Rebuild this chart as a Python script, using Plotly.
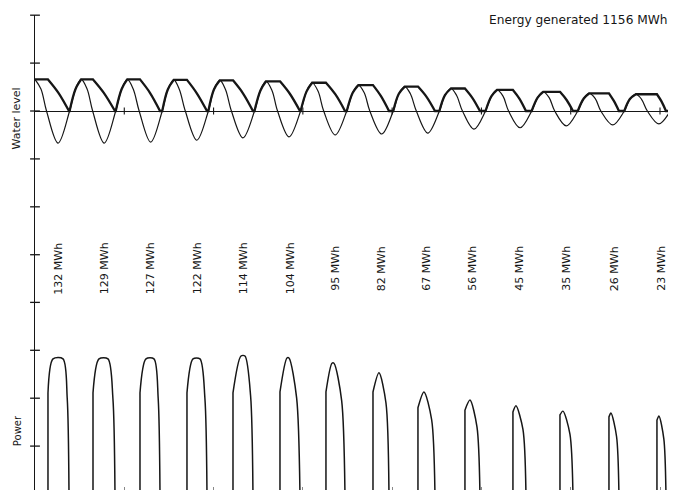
import plotly.graph_objects as go

# ---------------- data (hours / arbitrary level units) ----------------
hw_time = [0.0, 12.4, 24.8, 37.3, 49.7, 62.1, 74.5, 86.9, 99.4, 111.8, 124.2, 136.6, 149.0, 161.5]
hw_level = [0.66, 0.66, 0.66, 0.65, 0.64, 0.62, 0.59, 0.54, 0.51, 0.47, 0.44, 0.40, 0.37, 0.35]
fall_mid_time = [1.6, 14.0, 26.4, 38.8, 51.2, 63.7, 76.1, 88.5, 100.9, 113.3, 125.8, 138.2, 150.6, 163.0]
fall_mid_level = [0.46, 0.46, 0.46, 0.45, 0.45, 0.43, 0.41, 0.38, 0.36, 0.33, 0.31, 0.28, 0.26, 0.25]
fall_cross_time = [3.1, 15.5, 28.0, 40.4, 52.8, 65.2, 77.6, 90.0, 102.5, 114.9, 127.3, 139.7, 152.1, 164.6]
lw_time = [6.2, 18.6, 31.1, 43.5, 55.9, 68.3, 80.7, 93.2, 105.6, 118.0, 130.4, 142.8, 155.3, 167.7]
lw_level = [-0.67, -0.67, -0.65, -0.61, -0.56, -0.54, -0.50, -0.48, -0.46, -0.38, -0.35, -0.31, -0.29, -0.27]
rise_cross_time = [9.3, 21.7, 34.2, 46.6, 59.0, 71.4, 83.8, 96.3, 108.7, 121.1, 133.5, 145.9, 158.4, 170.8]
rise_mid_time = [10.9, 23.3, 35.7, 48.1, 60.6, 73.0, 85.4, 97.8, 110.2, 122.7, 135.1, 147.5, 159.9, 172.4]
rise_mid_level = [0.46, 0.46, 0.45, 0.45, 0.43, 0.41, 0.38, 0.36, 0.33, 0.31, 0.28, 0.26, 0.25, 0.24]

basin_low = 0.0
basin_fall_mid_time = [6.3, 18.5, 30.9, 43.5, 55.9, 68.5, 80.8, 93.0, 105.2, 117.6, 130.2, 142.9, 155.6, 168.4]
basin_fall_mid_level = [0.38, 0.38, 0.38, 0.37, 0.37, 0.36, 0.34, 0.31, 0.30, 0.27, 0.26, 0.23, 0.21, 0.20]

pulse_start = [3.49, 15.59, 28.22, 40.85, 53.22, 65.85, 78.21, 90.85, 102.94, 115.57, 128.47, 141.11, 154.28, 167.18]
pulse_end = [9.14, 21.50, 33.60, 46.23, 58.59, 71.22, 83.32, 95.15, 107.51, 119.60, 131.97, 144.60, 156.96, 169.60]
peak_start = [4.84, 17.20, 29.83, 42.47, 55.37, 67.73, 79.83, 92.46, 104.55, 116.92, 129.28, 141.91, 154.81, 167.71]
peak_end = [7.53, 19.62, 31.98, 44.35, 56.44, 68.27, 80.36, 92.46, 104.55, 116.92, 129.28, 141.91, 154.81, 167.71]
peak_power = [2.82, 2.82, 2.82, 2.82, 2.88, 2.84, 2.73, 2.53, 2.13, 1.96, 1.84, 1.73, 1.69, 1.63]
shoulder_power = [2.11, 2.11, 2.11, 2.11, 2.11, 2.13, 2.13, 2.13, 1.80, 1.75, 1.71, 1.65, 1.61, 1.54]
knee_time = [8.66, 20.94, 33.11, 45.67, 57.95, 70.33, 82.43, 94.34, 106.62, 118.80, 131.16, 143.79, 156.32, 169.03]
knee_power = [2.0, 2.0, 2.0, 2.0, 2.05, 2.0, 1.95, 1.9, 1.55, 1.4, 1.35, 1.25, 1.2, 1.15]

energy_mwh = [132, 129, 127, 122, 114, 104, 95, 82, 67, 56, 45, 35, 26, 23]
total_energy = 1156

water_ticks = [2, 1, 0, -1, -2, -3]
power_ticks = [1, 2, 3, 4]
day_hours = [24, 48, 72, 96, 120, 144, 168]

INK = "#161616"

# ---------------- build paths ----------------
sea_x, sea_y = [], []
for k in range(len(hw_time)):
    sea_x += [hw_time[k], fall_mid_time[k], fall_cross_time[k], lw_time[k], rise_cross_time[k], rise_mid_time[k]]
    sea_y += [hw_level[k], fall_mid_level[k], 0, lw_level[k], 0, rise_mid_level[k]]

bx, by = [hw_time[0]], [hw_level[0]]
n = len(hw_time)
for k in range(n):
    bx += [pulse_start[k], pulse_start[k], basin_fall_mid_time[k], pulse_end[k], pulse_end[k],
           rise_cross_time[k], rise_cross_time[k], rise_mid_time[k]]
    by += [hw_level[k], hw_level[k], basin_fall_mid_level[k], basin_low, basin_low,
           basin_low, basin_low, rise_mid_level[k]]
    if k + 1 < n:
        bx += [hw_time[k + 1], hw_time[k + 1]]
        by += [hw_level[k + 1], hw_level[k + 1]]

px_, py_ = [], []
for k in range(len(pulse_start)):
    xs = [pulse_start[k], pulse_start[k], pulse_start[k], pulse_start[k], peak_start[k]]
    ys = [0, 0, shoulder_power[k], shoulder_power[k], peak_power[k]]
    if peak_end[k] > peak_start[k]:
        xs.append(peak_end[k]); ys.append(peak_power[k])
    xs += [knee_time[k], pulse_end[k], pulse_end[k]]
    ys += [knee_power[k], 0, 0]
    px_ += xs + [None]
    py_ += ys + [None]

fig = go.Figure()
fig.add_trace(go.Scatter(x=sea_x, y=sea_y, mode="lines", yaxis="y",
                         line=dict(color=INK, width=1.2, shape="spline", smoothing=1.0, simplify=False)))
fig.add_trace(go.Scatter(x=bx, y=by, mode="lines", yaxis="y",
                         line=dict(color=INK, width=2.3, shape="spline", smoothing=1.0, simplify=False)))
fig.add_trace(go.Scatter(x=px_, y=py_, mode="lines", yaxis="y2", connectgaps=False,
                         line=dict(color=INK, width=1.5, shape="spline", smoothing=0.8, simplify=False)))
# axis tick crosses
fig.add_trace(go.Scatter(x=[0] * len(water_ticks), y=water_ticks, mode="markers", yaxis="y", cliponaxis=False,
                         marker=dict(symbol="line-ew", size=7, line=dict(color=INK, width=1.3))))
fig.add_trace(go.Scatter(x=[0] * len(power_ticks), y=power_ticks, mode="markers", yaxis="y2", cliponaxis=False,
                         marker=dict(symbol="line-ew", size=7, line=dict(color=INK, width=1.3))))
fig.add_trace(go.Scatter(x=day_hours, y=[0] * len(day_hours), mode="markers", yaxis="y", cliponaxis=False,
                         marker=dict(symbol="line-ns", size=5, line=dict(color=INK, width=1.1))))

split = 0.4463
# page body adds an 8 px offset; margins compensate so the plot lands where the reference has it
fig.update_layout(
    width=676, height=490,
    margin=dict(l=27, r=8, t=7, b=8),
    paper_bgcolor="white", plot_bgcolor="white",
    showlegend=False,
    font=dict(family="DejaVu Sans", color=INK),
    xaxis=dict(range=[0, 172.3], anchor="y2", showline=False, showgrid=False, zeroline=False,
               tickvals=day_hours, ticks="inside", ticklen=3, tickcolor="#888", showticklabels=False),
    yaxis=dict(domain=[split, 1], range=[-3.486, 2.004], anchor="x", showline=True, linecolor=INK,
               linewidth=1.3, showgrid=False, zeroline=True, zerolinecolor=INK, zerolinewidth=1.1,
               ticks="", showticklabels=False),
    yaxis2=dict(domain=[0, split], range=[0.0835, 4.509], anchor="x", showline=True, linecolor=INK,
                linewidth=1.3, showgrid=False, zeroline=False, ticks="", showticklabels=False),
)

for k, e in enumerate(energy_mwh):
    fig.add_annotation(x=(pulse_start[k] + pulse_end[k]) / 2, xref="x", y=0.467, yref="paper",
                       text=f"{e} MWh", textangle=-90, showarrow=False,
                       font=dict(size=11, color=INK), xanchor="center", yanchor="middle")

fig.add_annotation(x=0.9906, xref="paper", y=0.9895, yref="paper", text=f"Energy generated {total_energy} MWh",
                   showarrow=False, xanchor="right", yanchor="middle", font=dict(size=12.2, color=INK))
fig.add_annotation(x=-0.0281, xref="paper", y=0.782, yref="paper", text="Water level", textangle=-90,
                   showarrow=False, xanchor="center", yanchor="middle", font=dict(size=11, color=INK))
fig.add_annotation(x=-0.0281, xref="paper", y=0.126, yref="paper", text="Power", textangle=-90,
                   showarrow=False, xanchor="center", yanchor="middle", font=dict(size=10, color=INK))

fig.write_html("out.html")
